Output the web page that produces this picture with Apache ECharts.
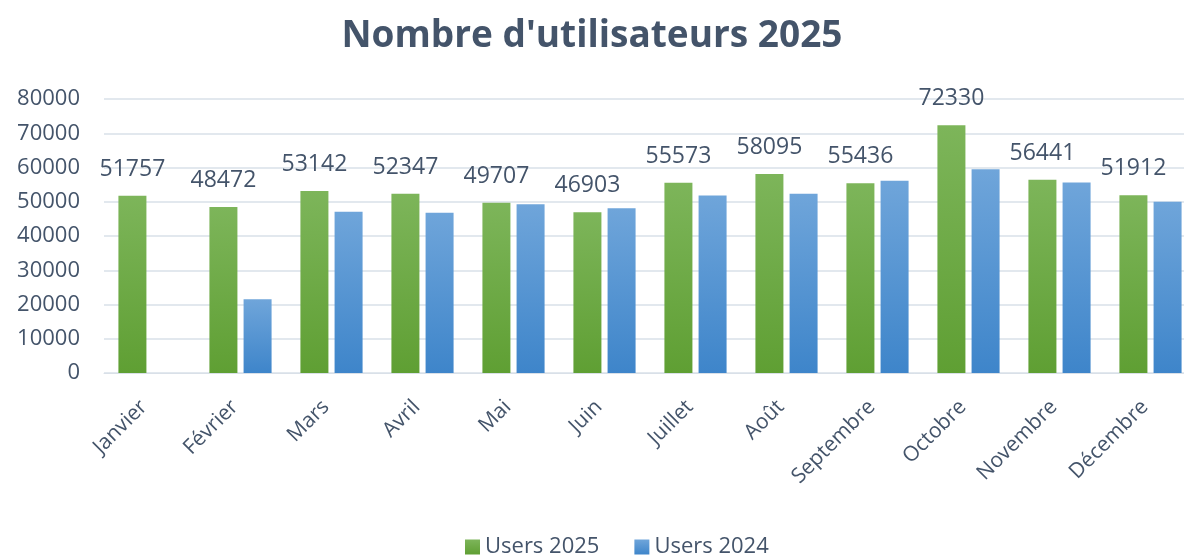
<!DOCTYPE html>
<html>
<head>
<meta charset="utf-8">
<script src="https://cdn.jsdelivr.net/npm/echarts@6/dist/echarts.min.js"></script>
<style>
  html, body { margin: 0; padding: 0; background: #fff; }
  #chart { width: 1184px; height: 555px; }
</style>
</head>
<body>
<div id="chart"></div>
<script>
var months = ['Janvier', 'Février', 'Mars', 'Avril', 'Mai', 'Juin', 'Juillet', 'Août', 'Septembre', 'Octobre', 'Novembre', 'Décembre'];
var users2025 = [51757, 48472, 53142, 52347, 49707, 46903, 55573, 58095, 55436, 72330, 56441, 51912];
var users2024 = [null, 21500, 47100, 46800, 49300, 48100, 51800, 52300, 56100, 59500, 55600, 50000];

var textColor = '#44546a';
var font = 'Open Sans';

function grad(top, bottom) {
    return new echarts.graphic.LinearGradient(0, 0, 0, 1, [
        { offset: 0, color: top },
        { offset: 1, color: bottom }
    ]);
}

var myChart = echarts.init(document.getElementById('chart'));
myChart.setOption({
    animation: false,
    textStyle: { fontFamily: font },
    title: {
        text: "Nombre d'utilisateurs 2025",
        left: 'center',
        top: 13,
        textStyle: { fontFamily: font, fontSize: 37, fontWeight: 'bold', color: textColor }
    },
    legend: {
        data: ['Users 2025', 'Users 2024'],
        bottom: -8,
        left: 460,
        icon: 'rect',
        itemWidth: 15,
        itemHeight: 15,
        itemGap: 35,
        textStyle: { fontFamily: font, fontSize: 22, color: textColor }
    },
    grid: {
        left: 104,
        top: 99,
        right: -12,
        height: 274,
        outerBoundsMode: 'none'
    },
    xAxis: {
        type: 'category',
        data: months,
        axisTick: { show: false },
        axisLine: { lineStyle: { color: '#d9e0e8' } },
        axisLabel: {
            rotate: 45,
            fontSize: 21,
            color: textColor,
            margin: 25,
            padding: [0, 8, 0, 0],
            fontFamily: font
        }
    },
    yAxis: {
        type: 'value',
        min: 0,
        max: 80000,
        interval: 10000,
        axisLine: { show: false },
        axisTick: { show: false },
        splitLine: { lineStyle: { color: '#d9e0e8', width: 1.5 } },
        axisLabel: {
            fontSize: 22,
            color: textColor,
            margin: 24,
            fontFamily: font,
            formatter: function (v) { return String(v); }
        }
    },
    series: [
        {
            name: 'Users 2025',
            type: 'bar',
            data: users2025,
            barWidth: 28,
            barGap: '22%',
            itemStyle: { color: grad('#7db55a', '#5f9f33') },
            label: {
                show: true,
                position: 'top',
                distance: 15,
                fontSize: 23,
                color: textColor,
                fontFamily: font
            }
        },
        {
            name: 'Users 2024',
            type: 'bar',
            data: users2024,
            barWidth: 28,
            itemStyle: { color: grad('#6fa5da', '#3e85ca') }
        }
    ]
});
</script>
</body>
</html>
